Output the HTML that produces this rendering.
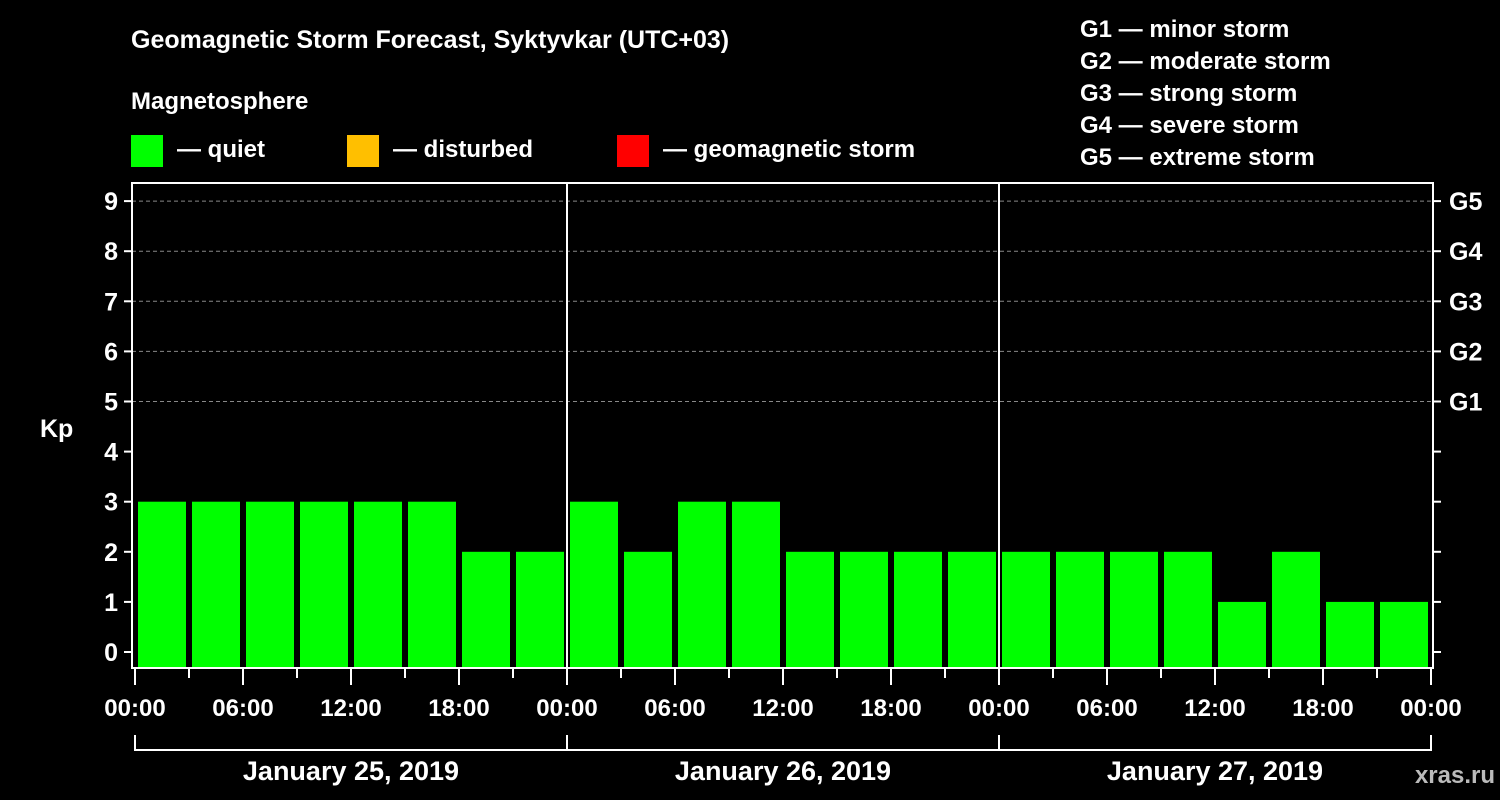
<!DOCTYPE html>
<html><head><meta charset="utf-8"><style>
html,body{margin:0;padding:0;background:#000;width:1500px;height:800px;overflow:hidden}
svg text{font-family:"Liberation Sans",Arial,sans-serif;font-weight:bold;fill:#fff}
</style></head><body>
<svg width="1500" height="800" xmlns="http://www.w3.org/2000/svg" id="chart">
<text x="131" y="48" font-size="25">Geomagnetic Storm Forecast, Syktyvkar (UTC+03)</text>
<text x="131" y="109" font-size="24">Magnetosphere</text>
<rect x="131" y="135" width="32" height="32" fill="#00ff00"/>
<text x="177" y="157" font-size="24">— quiet</text>
<rect x="347" y="135" width="32" height="32" fill="#ffbf00"/>
<text x="393" y="157" font-size="24">— disturbed</text>
<rect x="617" y="135" width="32" height="32" fill="#ff0000"/>
<text x="663" y="157" font-size="24">— geomagnetic storm</text>
<g font-size="24">
<text x="1080" y="37">G1 — minor storm</text>
<text x="1080" y="69">G2 — moderate storm</text>
<text x="1080" y="101">G3 — strong storm</text>
<text x="1080" y="133">G4 — severe storm</text>
<text x="1080" y="165">G5 — extreme storm</text>
</g>
<text x="40" y="437" font-size="25">Kp</text>
<text x="1495" y="783" font-size="24" text-anchor="end" style="fill:#bbb">xras.ru</text>
<g id="grid"></g><g id="bars"></g><g id="axes"></g>
</svg>
<script>
const kp=[3,3,3,3,3,3,2,2, 3,2,3,3,2,2,2,2, 2,2,2,2,1,2,1,1];
const dayLabels=["January 25, 2019","January 26, 2019","January 27, 2019"];
const hourLabels=["00:00","06:00","12:00","18:00"];
const gLabels=["G1","G2","G3","G4","G5"];
const NS="http://www.w3.org/2000/svg";
const X0=135,DAY=432,SLOT=DAY/8,Y0=652,UNIT=50.1,LEFT=132,RIGHT=1433,TOP=183,BOT=668;
const xs=i=>X0+i*SLOT, ys=v=>Y0-v*UNIT;
function mk(t,a,p){const e=document.createElementNS(NS,t);for(const k in a)e.setAttribute(k,a[k]);p.appendChild(e);return e;}
const grid=document.getElementById('grid'),bars=document.getElementById('bars'),axes=document.getElementById('axes');
for(let v=5;v<=9;v++){const l=mk('line',{x1:LEFT,x2:RIGHT,y1:ys(v),y2:ys(v),stroke:'#888','stroke-dasharray':'4,3','stroke-width':1},grid);

}
kp.forEach((v,i)=>{const r=mk('rect',{x:xs(i)+3,y:ys(v),width:48,height:BOT-1-ys(v),fill:v>=5?'#ff0000':(v>=4?'#ffbf00':'#00ff00')},bars);

});
mk('rect',{x:LEFT,y:TOP,width:RIGHT-LEFT,height:BOT-TOP,fill:'none',stroke:'#fff','stroke-width':2},axes);
for(let d=1;d<3;d++)mk('line',{x1:X0+d*DAY,x2:X0+d*DAY,y1:TOP,y2:BOT,stroke:'#fff','stroke-width':2},axes);
for(let v=0;v<=9;v++){
mk('line',{x1:124,x2:LEFT,y1:ys(v),y2:ys(v),stroke:'#fff','stroke-width':2},axes);
mk('line',{x1:RIGHT,x2:1441,y1:ys(v),y2:ys(v),stroke:'#fff','stroke-width':2},axes);
const t=mk('text',{x:118,y:ys(v)+9,'font-size':25,'text-anchor':'end'},axes);t.textContent=v;

}
gLabels.forEach((g,i)=>{const t=mk('text',{x:1449,y:ys(5+i)+9,'font-size':25},axes);t.textContent=g;

});
for(let i=0;i<=24;i++){const x=xs(i),maj=i%2==0;
mk('line',{x1:x,x2:x,y1:BOT,y2:maj?685:678,stroke:'#fff','stroke-width':2},axes);
if(maj){const t=mk('text',{x:x,y:716,'font-size':24,'text-anchor':'middle'},axes);t.textContent=hourLabels[(i/2)%4];

}}
dayLabels.forEach((d,i)=>{const a=X0+i*DAY,b=a+DAY;
mk('path',{d:`M${a},735V750H${b}V735`,fill:'none',stroke:'#fff','stroke-width':2},axes);
const t=mk('text',{x:(a+b)/2,y:780,'font-size':27,'text-anchor':'middle'},axes);t.textContent=d;

});
</script>
</body></html>
